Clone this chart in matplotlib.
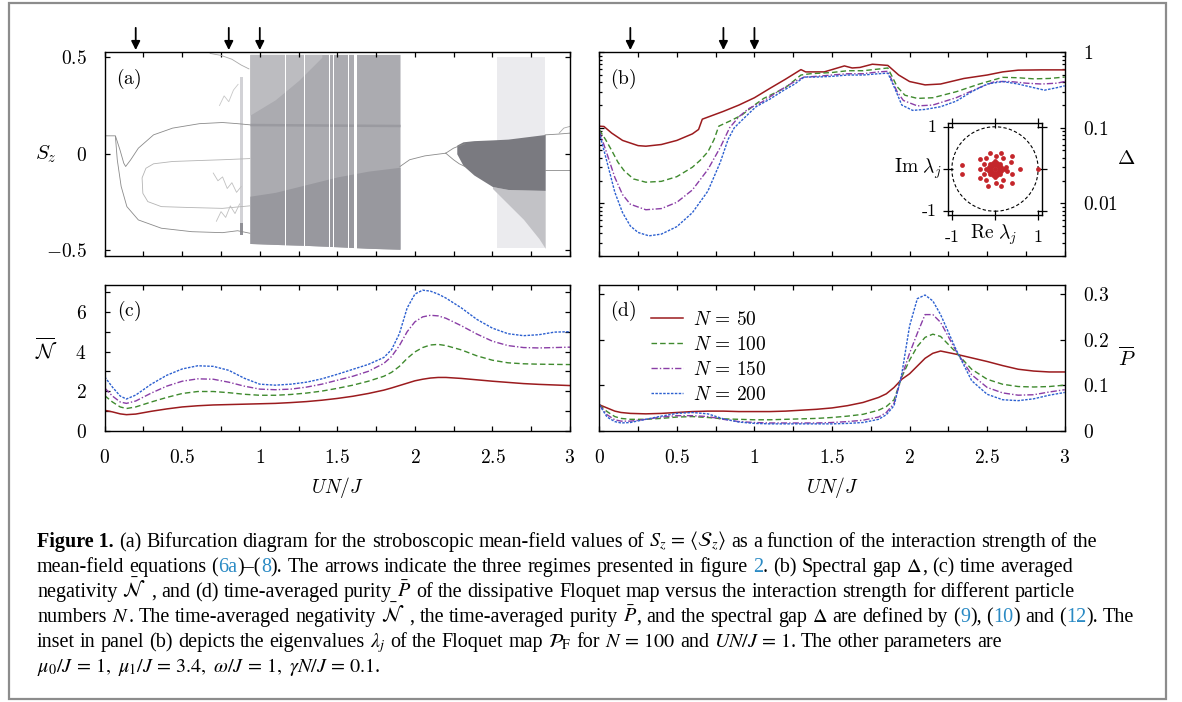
import re
import matplotlib
matplotlib.use('Agg')
import matplotlib.pyplot as plt
from matplotlib.patches import Rectangle, Circle
from matplotlib.ticker import FixedLocator, MultipleLocator, LogLocator, NullFormatter

plt.rcParams['mathtext.fontset'] = 'cm'
plt.rcParams['font.family'] = 'serif'
plt.rcParams['font.serif'] = ['DejaVu Serif']

## Data
arrow_x = [0.2, 0.8, 1.0]
N_labels = ['$N\\,=\\,50$', '$N\\,=\\,100$', '$N\\,=\\,150$', '$N\\,=\\,200$']

# (a) periodic branches of the bifurcation diagram
brB_x = [0, 0.069, 0.0985, 0.123, 0.135, 0.167, 0.217, 0.315, 0.438, 0.611, 0.759, 0.857, 0.936]
brB_y = [0.093, 0.093, 0.020, -0.049, -0.066, -0.032, 0.029, 0.098, 0.133, 0.156, 0.162, 0.156, 0.150]
brC_x = [0.069, 0.081, 0.106, 0.143, 0.217, 0.365, 0.562, 0.759, 0.857, 0.936]
brC_y = [0.090, -0.031, -0.169, -0.274, -0.343, -0.386, -0.404, -0.409, -0.399, -0.412]
brDE_x = [0.936, 0.759, 0.611, 0.438, 0.315, 0.266, 0.241, 0.246, 0.278, 0.365, 0.562, 0.759, 0.936]
brDE_y = [-0.025, -0.031, -0.035, -0.040, -0.052, -0.075, -0.125, -0.205, -0.248, -0.274, -0.279, -0.283, -0.27]
sq1_x = [0.70, 0.73, 0.76, 0.79, 0.82, 0.85, 0.88]
sq1_y = [-0.10, -0.14, -0.12, -0.18, -0.15, -0.20, -0.17]
sq2_x = [0.72, 0.75, 0.78, 0.81, 0.84, 0.87]
sq2_y = [-0.35, -0.30, -0.33, -0.27, -0.31, -0.26]
sq3_x = [0.74, 0.77, 0.80, 0.83, 0.86]
sq3_y = [0.25, 0.30, 0.27, 0.33, 0.36]
top_x = [0.68, 0.75, 0.82, 0.88, 0.93]
top_y = [0.52, 0.51, 0.49, 0.46, 0.44]
pd_x = [1.904, 1.966, 2.064, 2.199]
pd_y = [-0.066, -0.031, -0.011, 0.003]
pdU_x = [2.199, 2.249, 2.286, 2.323]
pdU_y = [0.003, 0.029, 0.041, 0.052]
pdL_x = [2.199, 2.249, 2.286, 2.323]
pdL_y = [0.003, -0.031, -0.052, -0.066]
endU_x = [2.84, 2.926, 3.0]
endU_y = [0.098, 0.102, 0.107]
endL_x = [2.84, 2.926, 3.0]
endL_y = [-0.083, -0.083, -0.083]
loop_x = [2.93, 2.96, 3.0]
loop_y = [0.107, 0.133, 0.142]

# (a) chaotic bands
chaos_x = [0.936, 1.1, 1.3, 1.5, 1.7, 1.904]
chaos_top = [0.515, 0.515, 0.515, 0.515, 0.515, 0.515]
chaos_bot = [-0.465, -0.47, -0.475, -0.482, -0.49, -0.495]
chaos_dark_top = [-0.22, -0.20, -0.16, -0.12, -0.09, -0.07]
light_x = [0.936, 1.1, 1.25, 1.4]
light_bot = [0.2, 0.28, 0.38, 0.5]
light_top = [0.515, 0.515, 0.515, 0.515]
band_x = [0.936, 1.904]
band_lo = [0.145, 0.14]
band_hi = [0.158, 0.153]
gap_x = [1.165, 1.227, 1.288, 1.448, 1.473, 1.571, 1.616]
gap_w = [0.006, 0.006, 0.006, 0.006, 0.006, 0.006, 0.016]
bar_x = [0.87, 0.89]
bar_hi = [0.2, 0.4]
bar_lo = [-0.42, -0.36]
faint_x = [2.53, 2.84]
faint_lo = [-0.49, -0.49]
faint_hi = [0.5, 0.5]
core_x = [2.27, 2.31, 2.38, 2.5, 2.6, 2.84]
core_top = [0.045, 0.062, 0.068, 0.072, 0.076, 0.100]
core_bot = [0.0, -0.06, -0.11, -0.17, -0.185, -0.19]
wedge_x = [2.5, 2.6, 2.7, 2.8, 2.84]
wedge_top = [-0.17, -0.185, -0.187, -0.189, -0.19]
wedge_bot = [-0.18, -0.26, -0.34, -0.44, -0.49]

# (b) spectral gap
d50_x = [0, 0.03, 0.08, 0.15, 0.25, 0.3, 0.4, 0.5, 0.6, 0.64, 0.664, 0.8, 0.9, 1.0, 1.1, 1.2, 1.3, 1.33, 1.45, 1.58,
         1.63, 1.68, 1.76, 1.86, 1.93, 2.0, 2.1, 2.2, 2.35, 2.5, 2.6, 2.7, 2.85, 3.0]
d50_y = [0.105, 0.104, 0.085, 0.068, 0.058, 0.057, 0.060, 0.068, 0.083, 0.095, 0.13, 0.165, 0.2, 0.25, 0.333, 0.44, 0.59,
         0.55, 0.55, 0.66, 0.62, 0.63, 0.695, 0.67, 0.5, 0.41, 0.37, 0.38, 0.45, 0.5, 0.55, 0.58, 0.585, 0.585]
d100_x = [0, 0.04, 0.08, 0.12, 0.16, 0.22, 0.3, 0.4, 0.5, 0.6, 0.65, 0.7, 0.74, 0.77, 0.85, 0.92, 1.0, 1.06, 1.2, 1.3,
          1.36, 1.5, 1.6, 1.7, 1.8, 1.86, 1.92, 1.97, 2.05, 2.15, 2.3, 2.45, 2.6, 2.7, 2.8, 2.9, 3.0]
d100_y = [0.094, 0.07, 0.05, 0.035, 0.027, 0.021, 0.019, 0.0195, 0.0225, 0.03, 0.037, 0.048, 0.07, 0.105, 0.125, 0.148,
          0.2, 0.245, 0.34, 0.5, 0.52, 0.54, 0.57, 0.57, 0.6, 0.62, 0.35, 0.27, 0.245, 0.25, 0.3, 0.38, 0.466, 0.46, 0.445,
          0.45, 0.47]
d150_x = [0, 0.05, 0.1, 0.15, 0.2, 0.3, 0.4, 0.5, 0.6, 0.7, 0.78, 0.84, 0.9, 0.96, 1.05, 1.16, 1.25, 1.32, 1.4, 1.5, 1.6,
          1.7, 1.8, 1.86, 1.92, 1.96, 2.05, 2.15, 2.3, 2.45, 2.55, 2.65, 2.75, 2.85, 2.95, 3.0]
d150_y = [0.09, 0.045, 0.022, 0.013, 0.0097, 0.0082, 0.0085, 0.0103, 0.015, 0.028, 0.055, 0.1, 0.14, 0.178, 0.22, 0.31,
          0.4, 0.47, 0.48, 0.5, 0.52, 0.52, 0.55, 0.56, 0.3, 0.23, 0.195, 0.2, 0.25, 0.34, 0.41, 0.41, 0.39, 0.38, 0.39,
          0.41]
d200_x = [0, 0.05, 0.1, 0.15, 0.2, 0.25, 0.32, 0.4, 0.5, 0.6, 0.7, 0.78, 0.83, 0.87, 0.95, 1.01, 1.1, 1.19, 1.26, 1.32,
          1.4, 1.5, 1.6, 1.7, 1.8, 1.86, 1.9, 1.95, 2.02, 2.1, 2.2, 2.3, 2.4, 2.5, 2.6, 2.7, 2.8, 2.87, 2.95, 3.0]
d200_y = [0.086, 0.035, 0.014, 0.0075, 0.005, 0.0041, 0.0037, 0.0039, 0.0049, 0.0075, 0.0145, 0.035, 0.07, 0.1, 0.145,
          0.19, 0.24, 0.315, 0.38, 0.47, 0.47, 0.48, 0.5, 0.5, 0.52, 0.53, 0.35, 0.2, 0.17, 0.175, 0.19, 0.225, 0.3, 0.38,
          0.41, 0.38, 0.34, 0.315, 0.34, 0.36]

# inset eigenvalues (Re, Im)
eig_re = [0.99, -0.76, -0.76, -0.35, 0.59, 0.39, 0.39, -0.35, -0.35, -0.12, 0.15, -0.16, 0.15, 0.37, 0.40, 0.19, -0.2,
          0.19, -0.2, 0.02, 0.02, -0.25, -0.25, 0.0, 0.1, -0.1, 0.0, 0.0, 0.07, 0.07, -0.07, -0.07, 0.15, 0.15, -0.15,
          -0.15, 0.05, 0.05, -0.05, -0.05, 0.2, -0.2, 0.0, 0.0, 0.12, 0.12, -0.12, -0.12, 0.25, 0.28]
eig_im = [0.0, 0.10, -0.12, 0.0, 0.0, 0.31, -0.33, 0.23, -0.21, 0.39, 0.39, -0.40, -0.40, 0.16, -0.13, 0.27, 0.27,
          -0.27, -0.27, 0.31, -0.33, 0.12, -0.12, 0.0, 0.0, 0.0, 0.1, -0.1, 0.07, -0.07, 0.07, -0.07, 0.05, -0.05, 0.05,
          -0.05, 0.15, -0.15, 0.15, -0.15, 0.0, 0.0, 0.2, -0.2, 0.12, -0.12, 0.12, -0.12, 0.05, -0.05]

# (c) negativity and (d) purity on a common grid
cd_x = [0, 0.05, 0.1, 0.14, 0.2, 0.3, 0.4, 0.5, 0.6, 0.7, 0.8, 0.9, 1.0, 1.1, 1.2, 1.3, 1.4, 1.5, 1.6, 1.7, 1.8, 1.85,
        1.9, 1.95, 2.0, 2.05, 2.1, 2.15, 2.2, 2.3, 2.4, 2.5, 2.6, 2.7, 2.8, 2.9, 3.0]
neg50 = [1.03, 0.95, 0.85, 0.81, 0.84, 0.98, 1.1, 1.2, 1.26, 1.3, 1.32, 1.34, 1.36, 1.38, 1.42, 1.47, 1.54, 1.63, 1.74,
         1.88, 2.05, 2.16, 2.28, 2.4, 2.52, 2.6, 2.66, 2.69, 2.69, 2.64, 2.57, 2.5, 2.44, 2.38, 2.34, 2.31, 2.28]
neg100 = [1.77, 1.45, 1.2, 1.12, 1.2, 1.45, 1.68, 1.88, 1.98, 1.98, 1.92, 1.84, 1.79, 1.79, 1.83, 1.9, 2.0, 2.14, 2.3,
          2.5, 2.75, 2.95, 3.25, 3.65, 3.98, 4.2, 4.33, 4.36, 4.3, 4.08, 3.78, 3.56, 3.43, 3.38, 3.36, 3.35, 3.34]
neg150 = [2.16, 1.75, 1.45, 1.38, 1.5, 1.9, 2.25, 2.5, 2.62, 2.6, 2.45, 2.25, 2.1, 2.07, 2.1, 2.2, 2.35, 2.55, 2.75, 3.0,
          3.4, 3.75, 4.3, 5.0, 5.5, 5.75, 5.83, 5.8, 5.68, 5.3, 4.88, 4.52, 4.3, 4.2, 4.18, 4.2, 4.22]
neg200 = [2.72, 2.2, 1.75, 1.6, 1.8, 2.35, 2.8, 3.12, 3.28, 3.25, 3.05, 2.65, 2.35, 2.3, 2.35, 2.45, 2.62, 2.85, 3.1,
          3.35, 3.7, 4.1, 4.9, 6.2, 6.9, 7.1, 7.05, 6.9, 6.7, 6.2, 5.62, 5.18, 4.9, 4.8, 4.85, 4.98, 5.0]
pur50 = [0.057, 0.05, 0.043, 0.04, 0.038, 0.037, 0.038, 0.04, 0.042, 0.043, 0.043, 0.042, 0.042, 0.042, 0.043, 0.045,
         0.047, 0.05, 0.055, 0.062, 0.073, 0.081, 0.095, 0.113, 0.125, 0.142, 0.159, 0.17, 0.175, 0.168, 0.16, 0.152,
         0.143, 0.135, 0.131, 0.129, 0.129]
pur100 = [0.057, 0.042, 0.031, 0.027, 0.025, 0.025, 0.027, 0.03, 0.031, 0.029, 0.026, 0.025, 0.024, 0.024, 0.025, 0.026,
          0.027, 0.029, 0.032, 0.036, 0.045, 0.053, 0.068, 0.118, 0.155, 0.185, 0.205, 0.212, 0.207, 0.172, 0.135, 0.113,
          0.102, 0.097, 0.096, 0.097, 0.1]
pur150 = [0.057, 0.035, 0.024, 0.021, 0.021, 0.025, 0.03, 0.033, 0.033, 0.031, 0.025, 0.02, 0.018, 0.017, 0.017, 0.017,
          0.017, 0.018, 0.02, 0.023, 0.03, 0.04, 0.06, 0.12, 0.17, 0.214, 0.255, 0.255, 0.238, 0.175, 0.123, 0.095, 0.083,
          0.078, 0.079, 0.085, 0.09]
pur200 = [0.057, 0.03, 0.02, 0.017, 0.018, 0.025, 0.032, 0.038, 0.04, 0.037, 0.026, 0.019, 0.016, 0.015, 0.015, 0.015,
          0.015, 0.015, 0.016, 0.018, 0.025, 0.035, 0.055, 0.125, 0.23, 0.29, 0.298, 0.285, 0.255, 0.178, 0.11, 0.08,
          0.068, 0.066, 0.07, 0.078, 0.084]

caption_lines = [
    r"**Figure 1.** (a) Bifurcation diagram for the stroboscopic mean-field values of $S_z\,=\,\langle\mathcal{S}_z\rangle$ as a function of the interaction strength of the",
    r"mean-field equations ({6a})–({8}). The arrows indicate the three regimes presented in figure {2}. (b) Spectral gap $\Delta$, (c) time averaged",
    r"negativity $\bar{\mathcal{N}}$ , and (d) time-averaged purity $\bar{P}$ of the dissipative Floquet map versus the interaction strength for different particle",
    r"numbers $N$. The time-averaged negativity $\bar{\mathcal{N}}$ , the time-averaged purity $\bar{P}$, and the spectral gap $\Delta$ are defined by ({9}), ({10}) and ({12}). The",
    r"inset in panel (b) depicts the eigenvalues $\lambda_j$ of the Floquet map $\mathcal{P}_\mathrm{F}$ for $N\,=\,100$ and $UN/J\,=\,1$. The other parameters are",
    r"$\mu_0/J\,=\,1,\ \mu_1/J\,=\,3.4,\ \omega/J\,=\,1,\ \gamma N/J\,=\,0.1$.",
]

## Styles
red, green, purple, blue = '#9b1b1e', '#3f8a2e', '#8a3ea6', '#2c60d0'
styles = [dict(color=red, ls='-', lw=1.1),
          dict(color=green, ls=(0, (4, 2.2)), lw=1.0),
          dict(color=purple, ls=(0, (4.5, 1.5, 1, 1.5)), lw=1.0),
          dict(color=blue, ls=(0, (1.8, 1.0)), lw=1.0)]
FS = 14

W, H = 1182, 702
fig = plt.figure(figsize=(W / 100, H / 100), dpi=100)


def px_axes(x0, y0, x1, y1):
    return fig.add_axes([x0 / W, 1 - y1 / H, (x1 - x0) / W, (y1 - y0) / H])


def mathfmt(v, pos=None):
    return '$%g$' % v


def style_axes(ax):
    for s in ax.spines.values():
        s.set_linewidth(1.0)
    ax.tick_params(which='both', direction='in', top=True, right=True, length=3.4, width=0.9,
                   labelsize=FS, pad=13)
    ax.set_xlim(0, 3)
    ax.xaxis.set_major_locator(MultipleLocator(0.5))
    ax.xaxis.set_minor_locator(MultipleLocator(0.25))


def add_arrows(ax):
    for xa in arrow_x:
        ax.annotate('', xy=(xa, 1.011), xytext=(xa, 1.12), xycoords=('data', 'axes fraction'),
                    textcoords=('data', 'axes fraction'),
                    arrowprops=dict(arrowstyle='-|>', color='k', lw=1.3, mutation_scale=13, shrinkA=0, shrinkB=0))


## Panel (a)
axa = px_axes(104.7, 52.3, 570, 256)
style_axes(axa)
axa.set_ylim(-0.53, 0.526)
axa.set_yticks([-0.5, 0, 0.5])
axa.yaxis.set_major_formatter(mathfmt)
axa.xaxis.set_major_formatter(NullFormatter())

axa.fill_between(chaos_x, chaos_bot, chaos_top, color='#ababb0', lw=0)
axa.fill_between(light_x, light_bot, light_top, color='#bcbcc0', lw=0)
axa.fill_between(chaos_x, chaos_bot, chaos_dark_top, color='#98989e', lw=0)
axa.fill_between(band_x, band_lo, band_hi, color='#9a9aa0', lw=0)
for gx, gw in zip(gap_x, gap_w):
    axa.axvspan(gx - gw / 2, gx + gw / 2, color='white', lw=0)
axa.fill_between(bar_x, [bar_lo[0]] * 2, [bar_hi[0]] * 2, color='#909096', lw=0)
axa.fill_between(bar_x, [bar_lo[1]] * 2, [bar_hi[1]] * 2, color='#d2d2d6', lw=0)
axa.fill_between(faint_x, faint_lo, faint_hi, color='#ebebee', lw=0)
axa.fill_between(wedge_x, wedge_bot, wedge_top, color='#c2c2c6', lw=0)
axa.fill_between(core_x, core_bot, core_top, color='#7a7a80', lw=0)

for xs, ys, c in [(brB_x, brB_y, '#8a8a8a'), (brC_x, brC_y, '#8a8a8a'), (brDE_x, brDE_y, '#b4b4b4'),
                  (sq1_x, sq1_y, '#c0c0c0'), (sq2_x, sq2_y, '#c0c0c0'), (sq3_x, sq3_y, '#c8c8c8'),
                  (top_x, top_y, '#a8a8a8'), (pd_x, pd_y, '#8a8a8a'), (pdU_x, pdU_y, '#8a8a8a'),
                  (pdL_x, pdL_y, '#8a8a8a'), (endU_x, endU_y, '#8a8a8a'), (endL_x, endL_y, '#8a8a8a'),
                  (loop_x, loop_y, '#a8a8a8')]:
    axa.plot(xs, ys, color=c, lw=0.6)
axa.text(-0.126, 0.5, '$S_z$', transform=axa.transAxes, fontsize=FS + 1, ha='center', va='center')
axa.text(0.052, 0.87, r'$(\mathrm{a})$', transform=axa.transAxes, fontsize=FS, ha='center', va='center')
add_arrows(axa)

## Panel (b)
axb = px_axes(599.3, 52.3, 1064.7, 256)
style_axes(axb)
axb.set_yscale('log')
axb.set_ylim(0.002, 1)
axb.yaxis.set_major_locator(FixedLocator([0.01, 0.1, 1]))
axb.yaxis.set_minor_locator(LogLocator(subs=range(2, 10)))
axb.yaxis.set_minor_formatter(NullFormatter())
axb.set_yticks([0.01, 0.1, 1], ['$0.01$', '$0.1$', '$1$'])
axb.tick_params(axis='y', which='minor', length=2.4)
axb.tick_params(axis='y', labelleft=False, labelright=True)
axb.xaxis.set_major_formatter(NullFormatter())
for xs, ys, st in zip([d50_x, d100_x, d150_x, d200_x], [d50_y, d100_y, d150_y, d200_y], styles):
    axb.plot(xs, ys, **st)
axb.text(1.133, 0.48, r'$\Delta$', transform=axb.transAxes, fontsize=FS + 1, ha='center', va='center')
axb.text(0.052, 0.87, r'$(\mathrm{b})$', transform=axb.transAxes, fontsize=FS, ha='center', va='center')
add_arrows(axb)

# inset
axi = px_axes(948, 123, 1042, 215)
axi.set_xlim(-1.09, 1.09)
axi.set_ylim(-1.09, 1.09)
axi.set_xticks([-1, 0, 1])
axi.set_yticks([-1, 0, 1])
axi.tick_params(which='both', direction='inout', top=True, right=True, length=7, width=0.9,
                labelbottom=False, labelleft=False)
for s in axi.spines.values():
    s.set_linewidth(1.0)
axi.add_patch(Circle((0, 0), 1, fill=False, ls=(0, (3, 2)), lw=0.8, color='k'))
axi.scatter(eig_re, eig_im, s=12, color='#c4262b', lw=0, zorder=3)
axi.text(-0.12, 0.96, '$1$', transform=axi.transAxes, fontsize=FS - 1, ha='right', va='center')
axi.text(-0.12, 0.04, '-1', family='cmr10', transform=axi.transAxes, fontsize=FS - 1, ha='right', va='center')
axi.text(-0.07, 0.5, r'$\mathrm{Im}\ \lambda_j$', transform=axi.transAxes, fontsize=FS, ha='right', va='center')
axi.text(0.04, -0.24, '-1', family='cmr10', transform=axi.transAxes, fontsize=FS - 1, ha='center', va='center')
axi.text(0.95, -0.24, '$1$', transform=axi.transAxes, fontsize=FS - 1, ha='center', va='center')
axi.text(0.49, -0.22, r'$\mathrm{Re}\ \lambda_j$', transform=axi.transAxes, fontsize=FS, ha='center', va='center')

## Panel (c)
axc = px_axes(104.7, 285, 570, 430.7)
style_axes(axc)
axc.set_ylim(0, 7.36)
axc.yaxis.set_major_locator(MultipleLocator(2))
axc.yaxis.set_minor_locator(MultipleLocator(1))
axc.yaxis.set_major_formatter(mathfmt)
axc.xaxis.set_major_formatter(mathfmt)
for ys, st in zip([neg50, neg100, neg150, neg200], styles):
    axc.plot(cd_x, ys, **st)
axc.text(-0.126, 0.554, r'$\overline{\mathcal{N}}$', transform=axc.transAxes, fontsize=FS + 1, ha='center',
         va='center')
axc.text(0.5, -0.393, '$UN/J$', transform=axc.transAxes, fontsize=FS, ha='center', va='center')
axc.text(0.052, 0.82, r'$(\mathrm{c})$', transform=axc.transAxes, fontsize=FS, ha='center', va='center')

## Panel (d)
axd = px_axes(599.3, 285, 1064.7, 430.7)
style_axes(axd)
axd.set_ylim(0, 0.32)
axd.yaxis.set_major_locator(MultipleLocator(0.1))
axd.yaxis.set_major_formatter(mathfmt)
axd.xaxis.set_major_formatter(mathfmt)
axd.tick_params(axis='y', labelleft=False, labelright=True)
for ys, st, lab in zip([pur50, pur100, pur150, pur200], styles, N_labels):
    axd.plot(cd_x, ys, label=lab, **st)
axd.legend(loc='upper left', bbox_to_anchor=(0.112, 0.82), frameon=False, fontsize=FS, handlelength=1.6,
           handletextpad=0.55, labelspacing=0.36, borderpad=0, borderaxespad=0)
axd.text(1.133, 0.5, r'$\overline{P}$', transform=axd.transAxes, fontsize=FS + 1, ha='center', va='center')
axd.text(0.5, -0.393, '$UN/J$', transform=axd.transAxes, fontsize=FS, ha='center', va='center')
axd.text(0.052, 0.82, r'$(\mathrm{d})$', transform=axd.transAxes, fontsize=FS, ha='center', va='center')

## Frame around figure and caption
fig.patches.append(Rectangle((9 / W, 1 - 699 / H), (1166 - 9) / W, (699 - 3) / H, transform=fig.transFigure,
                             fill=False, edgecolor='#8c8c8c', lw=1.6))

## Caption, drawn word by word so references can be coloured
link_color = '#2a8ac4'
renderer = fig.canvas.get_renderer()


def draw_caption(fs):
    texts, ends = [], []
    space = 0.25 * fs * 100 / 72
    for i, line in enumerate(caption_lines):
        x = 37
        y = 547 + 25 * i
        for tok in re.findall(r'\*\*.*?\*\*|\$.*?\$|\{.*?\}| |[^ ${*]+', line):
            if tok == ' ':
                x += space
                continue
            kw = dict(fontsize=fs, family='Liberation Serif', va='baseline', ha='left', math_fontfamily='stix')
            if tok.startswith('**'):
                tok = tok[2:-2]
                kw['weight'] = 'bold'
            elif tok.startswith('{'):
                tok = tok[1:-1]
                kw['color'] = link_color
            t = fig.text(x / W, 1 - y / H, tok, **kw)
            x += t.get_window_extent(renderer).width
            texts.append(t)
        ends.append(x)
    return texts, ends


texts, ends = draw_caption(13)
fs_fit = 13 * (1135.7 - 37) / (ends[3] - 37)
for t in texts:
    t.remove()
draw_caption(fs_fit)

fig.savefig('out.png', dpi=100)
